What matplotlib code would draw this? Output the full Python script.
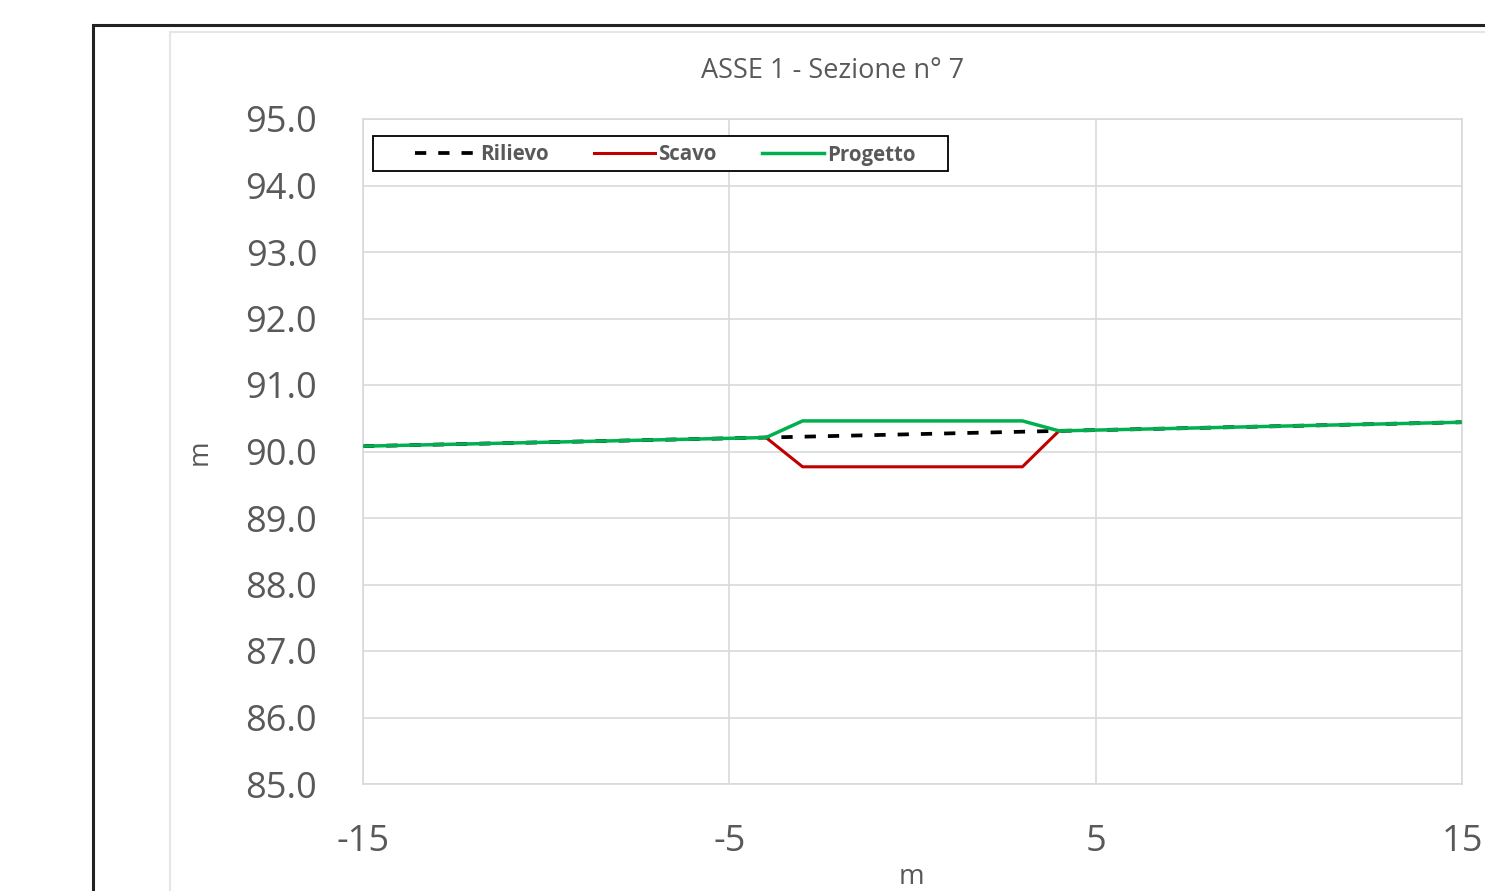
import numpy as np
import matplotlib.pyplot as plt
from matplotlib.patches import Rectangle

# --------------------------------------------------
# DATA
# --------------------------------------------------
ril_x = [-15, -4, 4, 15]
ril_y = [90.08, 90.21, 90.31, 90.44]

scavo_x = [-4, -3, 3, 4]
scavo_y = [90.21, 89.77, 89.77, 90.31]

prog_x = [-15, -4, -3, 3, 4, 15]
prog_y = [90.08, 90.21, 90.46, 90.46, 90.31, 90.44]

x_ticks = [-15, -5, 5, 15]
y_ticks = np.arange(85, 95.1, 1.0)

title = "ASSE 1 - Sezione n° 7"

# --------------------------------------------------
# FIGURE
# --------------------------------------------------
plt.rcParams['font.family'] = ['Open Sans', 'DejaVu Sans']
plt.rcParams['axes.unicode_minus'] = False
text_col = "#595959"
grid_col = "#D9D9D9"

W, H = 1485, 891
fig = plt.figure(figsize=(W / 100, H / 100), dpi=100)

# outer frames (page border + chart area border)
fig.patches.append(Rectangle((93 / W, -0.1), 1.2, (891 - 25) / H + 0.1,
                             transform=fig.transFigure, fill=False,
                             edgecolor="#222222", linewidth=2.2))
fig.patches.append(Rectangle((170 / W, -0.1), 1.2, (891 - 32) / H + 0.1,
                             transform=fig.transFigure, fill=False,
                             edgecolor="#E6E6E6", linewidth=1.5))

ax = fig.add_axes([363 / W, 1 - 784 / H, (1462 - 363) / W, (784 - 119) / H])

ax.plot(ril_x, ril_y, color="black", linestyle=(0, (3, 3.2)), linewidth=2.7,
        label="Rilievo", zorder=1)
ax.plot(scavo_x, scavo_y, color="#C00000", linewidth=2.2, label="Scavo", zorder=2)
ax.plot(prog_x, prog_y, color="#00B050", linewidth=2.5, label="Progetto", zorder=3)

ax.set_xlim(-15, 15)
ax.set_ylim(85, 95)
ax.set_xticks(x_ticks)
ax.set_yticks(y_ticks)
ax.set_yticklabels([f"{v:.1f}" for v in y_ticks])
ax.tick_params(length=0, labelsize=26, colors=text_col)
ax.tick_params(axis="y", pad=33)
ax.tick_params(axis="x", pad=29)

ax.grid(True, color=grid_col, linewidth=1.2)
ax.set_axisbelow(True)
for s in ax.spines.values():
    s.set_color(grid_col)
    s.set_linewidth(1.2)

fig.text(911 / W, 1 - 877 / H, "m", fontsize=20, color=text_col,
         ha="center", va="center")
fig.text(200 / W, 1 - 452 / H, "m", fontsize=20, color=text_col,
         ha="center", va="center", rotation=90)
fig.text(833 / W, 1 - 71 / H, title, fontsize=19.5, color=text_col,
         ha="center", va="center")

# legend box drawn separately to get the wide side padding
ax.add_patch(Rectangle((10 / 1099, (784 - 171) / 665), 575 / 1099, 35 / 665,
                       transform=ax.transAxes, fill=True, facecolor="white",
                       edgecolor="black", linewidth=1.3, zorder=4))
leg = ax.legend(loc="center left", bbox_to_anchor=(52 / 1099, (784 - 155) / 665),
                ncol=3, frameon=False,
                prop={"weight": "bold", "size": 14.8},
                handlelength=3.0, handletextpad=0.15, columnspacing=2.2,
                borderpad=0, borderaxespad=0)
leg.set_zorder(5)
for t in leg.get_texts():
    t.set_color(text_col)

fig.savefig("out.png", dpi=100)
